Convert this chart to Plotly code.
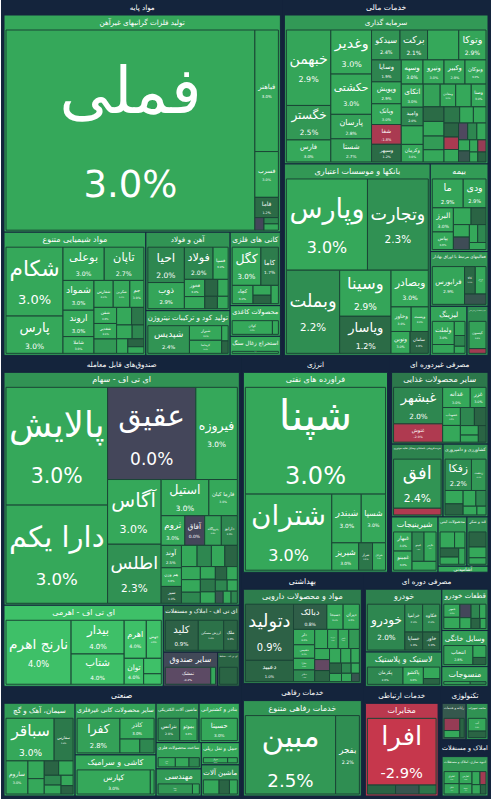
import plotly.graph_objects as go

NAVY = "#14243c"

sectors = ["مواد پایه", "خدمات مالی", "صندوق‌های قابل معامله", "صنعتی", "انرژی",
           "مصرفی غیردوره ای", "بهداشتی", "خدمات رفاهی", "مصرفی دوره ای",
           "خدمات ارتباطی", "تکنولوژی", "املاک و مستغلات"]

# ---- مواد پایه
basic_industries = ["تولید فلزات گرانبهای غیرآهن", "مواد شیمیایی متنوع", "آهن و فولاد",
                    "تولید کود و ترکیبات نیتروژن", "کانی های فلزی", "محصولات کاغذی", "استخراج زغال سنگ"]
basic_counts = [7, 20, 10, 5, 6, 2, 1]
basic_stocks = ["فملی", "فباهنر", "فسرب", "فاما", "", "", "",
                "شکام", "پارس", "بوعلی", "تاپان", "شمواد", "اروند", "شاملا", "شفارس", "شکربن", "جم", "شفن", "شغدیر",
                "", "", "", "", "", "", "", "",
                "احیا", "ذوب", "فولاد", "فسپا", "فخوز", "", "", "", "", "",
                "شپدیس", "شیراز", "کرماشا", "", "",
                "کگل", "کاما", "کچاد", "", "", "",
                "کولان", "",
                "کزغال"]
basic_values = [52300, 3000, 1130, 500, 120, 95, 95,
                4470, 2420, 1560, 1500, 1050, 930, 590, 590, 510, 430, 415, 400,
                370, 300, 245, 245, 185, 185, 145, 120,
                1650, 1220, 1180, 620, 450, 315, 280, 225, 200, 170,
                1860, 760, 680, 160, 130,
                1480, 900, 515, 240, 205, 180,
                1280, 190,
                910]
basic_changes = [3.0, 3.0, 3.0, 1.2, 0.0, 2.0, 3.0,
                 3.0, 3.0, 3.0, 2.7, 3.0, 3.0, 3.0, 3.0, 3.0, 3.0, 3.0, 3.0,
                 2.5, 3.0, 1.5, 3.0, 2.0, 3.0, 1.0, 3.0,
                 2.0, 2.9, 2.0, 3.0, 3.0, 3.0, 1.0, 3.0, 1.0, 3.0,
                 2.4, 3.0, 3.0, 3.0, 1.0,
                 3.0, 1.7, 3.0, 3.0, 1.0, 3.0,
                 3.0, 3.0,
                 3.0]

# ---- خدمات مالی
fin_industries = ["سرمایه گذاری", "بانکها و موسسات اعتباری", "بیمه",
                  "فعالیتهای مرتبط با اوراق بهادار", "لیزینگ", "سایر واسطه گری های مالی"]
fin_counts = [47, 10, 11, 4, 5, 2]
fin_stocks = ["خبهمن", "خگستر", "فارس", "وغدیر", "حکشتی", "پارسان", "شستا", "سیدکو", "برکت", "",
              "وتوکا", "وسایا", "وپویش", "وبانک", "شفا", "وسپهر", "وسپه", "ونیرو", "وکبیر", "وبوکان",
              "اتکای", "وامید", "", "وکرمان", "", "ومعادن", "", "وصنا", "", "",
              "", "", "", "", "", "", "", "", "", "",
              "", "", "", "", "", "", "",
              "وپارس", "وتجارت", "وبملت", "وسینا", "ویاسار", "وبصادر", "وخاور", "وپست", "ونوین", "سامان",
              "ما", "ودی", "البرز", "بپاس", "", "", "", "", "", "", "",
              "فرابورس", "کالا", "بورس", "",
              "ولملت", "", "", "", "",
              "کیسون", ""]
fin_values = [3700, 1690, 1080, 1980, 1810, 1100, 1040, 940, 910, 1030,
              900, 720, 720, 680, 650, 580, 580, 560, 560, 560,
              560, 450, 450, 425, 425, 390, 390, 370, 335, 335,
              315, 280, 280, 245, 225, 225, 200, 200, 170, 170,
              170, 135, 135, 110, 110, 90, 90,
              8000, 6000, 4790, 2560, 2060, 1480, 535, 455, 450, 430,
              1140, 840, 650, 475, 380, 320, 255, 255, 190, 190, 150,
              1820, 440, 440, 330,
              840, 320, 250, 190, 125,
              840, 145]
fin_changes = [2.9, 2.5, 3.0, 3.0, 3.0, 2.8, 2.7, 2.4, 2.1, 3.0,
               2.9, 1.9, 2.9, 3.0, -1.8, 1.2, 3.0, 3.0, 2.9, 3.0,
               3.0, 2.0, 3.0, 3.0, 2.8, 3.0, 3.0, 3.0, 1.2, 3.0,
               2.6, 3.0, 1.5, 3.0, 3.0, 1.0, -1.8, 3.0, -0.1, 2.0,
               3.0, 3.0, 0.5, 3.0, -1.0, 3.0, 1.0,
               3.0, 2.3, 2.2, 2.9, 1.2, 3.0, 3.0, 3.0, 3.0, 1.0,
               2.9, 2.9, 3.0, 3.0, 3.0, 1.0, 3.0, 0.2, 3.0, 2.0, 3.0,
               2.9, 1.1, 3.0, 0.5,
               3.0, 3.0, 3.0, 2.0, 3.0,
               2.8, -1.5]

# ---- صندوق‌های قابل معامله
etf_industries = ["ای تی اف - سهام", "ای تی اف - اهرمی", "ای تی اف - املاک و مستغلات",
                  "سایر صندوق", "ای تی اف - مختلط"]
etf_counts = [32, 8, 3, 2, 1]
etf_stocks = ["پالایش", "دارا یکم", "عقیق", "فیروزه", "آگاس", "اطلس", "استیل", "فارما کیان",
              "ثروم", "آفاق", "پتروآگاه", "دارایو", "آوند", "هم وزن", "سپر",
              "", "", "", "", "", "", "", "", "", "", "", "", "", "", "", "", "",
              "نارنج اهرم", "بیدار", "شتاب", "اهرم", "جهش", "توان", "", "",
              "کلید", "ارزش مسکن", "ملک",
              "تمشک", "",
              ""]
etf_values = [12600, 10500, 8570, 4030, 3650, 3330, 1820, 1085,
              740, 620, 520, 500, 480, 400, 360,
              350, 320, 300, 280, 260, 250, 220, 200, 200, 180, 160, 150, 140, 120, 100, 100, 80,
              5190, 2230, 2000, 1050, 710, 630, 340, 230,
              1570, 1210, 650,
              1600, 170,
              710]
etf_changes = [3.0, 3.0, 0.0, 3.0, 3.0, 2.3, 3.0, 3.0,
               3.0, 0.0, 2.8, 2.0, 2.5, 3.0, 1.0,
               3.0, 2.0, 3.0, 1.0, 3.0, 3.0, 2.0, 3.0, 1.5, 3.0, 1.0, 3.0, 2.0, 3.0, 0.5, 3.0, 2.0,
               4.0, 4.0, 4.0, 4.0, 4.0, 4.0, 4.0, 4.0,
               0.9, 1.4, 1.0,
               -0.2, 3.0,
               1.0]

# ---- صنعتی
ind_industries = ["سیمان، آهک و گچ", "سایر محصولات کانی غیرفلزی", "کاشی و سرامیک",
                  "ماشین آلات الکتریکی", "بنادر و کشتیرانی", "ساخت محصولات فلزی",
                  "مهندسی", "حمل و نقل ریلی", "ماشین آلات"]
ind_counts = [11, 4, 2, 2, 1, 3, 2, 2, 3]
ind_stocks = ["سباقر", "سفارس", "ساروم", "", "", "", "", "", "", "", "",
              "کفرا", "کاذر", "", "",
              "کپارس", "",
              "بترانس", "بموتو",
              "حسینا",
              "فنوال", "", "",
              "رمپنا", "",
              "حریل", "",
              "", "", ""]
ind_values = [2870, 1130, 1015, 405, 350, 290, 290, 230, 210, 175, 140,
              2510, 1200, 465, 335,
              3410, 175,
              1015, 810,
              1710,
              535, 425, 320,
              1100, 220,
              650, 260,
              590, 390, 295]
ind_changes = [3.0, 1.6, 3.0, 3.0, 3.0, 1.0, 3.0, 2.0, 3.0, 3.0, 1.0,
               2.8, 3.0, 3.0, 2.0,
               3.0, 3.0,
               2.0, 3.0,
               3.0,
               3.0, 3.0, 2.0,
               2.5, 3.0,
               3.0, 3.0,
               3.0, 1.0, 3.0]

# ---- انرژی
energy_industries = ["فراورده های نفتی"]
energy_counts = [7]
energy_stocks = ["شپنا", "شتران", "شبندر", "شسپا", "شبریز", "شراز", "شرانل"]
energy_values = [16800, 7380, 1610, 1330, 825, 425, 400]
energy_changes = [3.0, 3.0, 3.0, 3.0, 3.0, 1.5, 3.0]

# ---- مصرفی غیردوره ای
staples_industries = ["سایر محصولات غذایی", "خرده فروشی باستثنای وسایل نقلیه موتوری",
                      "کشاورزی و دامپروری", "شیرینیجات", "محصولات لبنی", "قند و شکر", "آشامیدنی"]
staples_counts = [11, 2, 8, 5, 5, 3, 1]
staples_stocks = ["غبشهر", "غنوش", "غدانه", "غزر", "غشهداب", "", "", "", "", "", "",
                  "افق", "",
                  "زفکا", "زدشت", "", "", "", "", "", "",
                  "غبهار", "غمینو", "غپینو", "غگرجی", "",
                  "", "", "", "", "",
                  "", "", "",
                  ""]
staples_values = [2480, 1240, 770, 440, 440, 410, 350, 290, 235, 175, 175,
                  3340, 455,
                  1200, 660, 350, 290, 290, 230, 175, 115,
                  565, 565, 565, 565, 340,
                  420, 300, 300, 240, 180,
                  490, 350, 210,
                  300]
staples_changes = [2.0, -2.0, 3.0, 3.0, 3.0, 3.0, 2.0, 1.0, 3.0, 3.0, 1.0,
                   2.4, -2.0,
                   2.2, 2.5, 3.0, 1.0, 3.0, 2.0, 3.0, 3.0,
                   3.0, 3.0, 2.0, 3.0, 3.0,
                   3.0, 3.0, 1.0, 3.0, 3.0,
                   1.0, 3.0, 3.0,
                   3.0]

# ---- بهداشتی
health_industries = ["مواد و محصولات دارویی"]
health_counts = [25]
health_stocks = ["دتولید", "دعبید", "دبالک",
                 "دسبحا", "دیران", "دلر", "دشیمی", "دفارا", "دجابر", "", "درازک", "دکیمی",
                 "", "", "", "", "", "", "", "", "", "", "", "", ""]
health_values = [3730, 1410, 1160,
                 565, 565, 450, 395, 340, 340, 340, 280, 280,
                 280, 225, 225, 225, 225, 205, 170, 170, 135, 135, 115, 115, 90]
health_changes = [0.9, 1.0, 0.8,
                  3.0, 3.0, 3.0, 3.0, 3.0, 2.0, 3.0, 3.0, 3.0,
                  2.5, 3.0, -0.3, 1.0, 3.0, 3.0, 3.0, 1.0, 3.0, 2.0, 3.0, 3.0, 0.5]

# ---- خدمات رفاهی
leisure_industries = ["خدمات رفاهی متنوع"]
leisure_counts = [2]
leisure_stocks = ["مبین", "بفجر"]
leisure_values = [9720, 2560]
leisure_changes = [2.5, 2.2]

# ---- مصرفی دوره ای
disc_industries = ["خودرو", "لاستیک و پلاستیک", "قطعات خودرو", "وسایل خانگی", "منسوجات"]
disc_counts = [5, 4, 8, 3, 2]
disc_stocks = ["خودرو", "خزامیا", "خکاوه", "خساپا", "خاور",
               "پکرمان", "پاکشو", "", "",
               "خمهر", "", "", "", "", "", "", "",
               "انتخاب", "", "",
               "", ""]
disc_values = [2700, 780, 750, 505, 485,
               1400, 800, 430, 215,
               425, 365, 305, 245, 245, 185, 185, 120,
               1250, 350, 210,
               620, 370]
disc_changes = [2.0, 2.0, 2.0, 1.0, 1.0,
                2.0, 3.0, 3.0, 1.0,
                3.0, 3.0, 0.0, 3.0, 2.0, 3.0, 1.0, 3.0,
                2.8, 3.0, 1.0,
                3.0, 2.0]

# ---- خدمات ارتباطی
tel_industries = ["مخابرات"]
tel_counts = [4]
tel_stocks = ["افرا", "", "", ""]
tel_values = [6640, 365, 305, 220]
tel_changes = [-2.9, 1.0, 0.5, 1.5]

# ---- تکنولوژی
tech_industries = ["رایانه و خدمات", "ساخت تجهیزات"]
tech_counts = [3, 2]
tech_stocks = ["", "", "", "آپ", ""]
tech_values = [620, 360, 270, 750, 380]
tech_changes = [-1.0, 3.0, 1.0, 3.0, 1.0]

# ---- املاک و مستغلات
real_industries = ["انبوه سازی، املاک و مستغلات"]
real_counts = [8]
real_stocks = ["ثشرق", "ثامان", "ثفارس", "ثنوسا", "", "", "", ""]
real_values = [490, 420, 420, 350, 280, 210, 210, 140]
real_changes = [3.0, 3.0, 3.0, 3.0, 3.0, -1.5, 3.0, 1.0]

sector_data = [
    (basic_industries, basic_counts, basic_stocks, basic_values, basic_changes),
    (fin_industries, fin_counts, fin_stocks, fin_values, fin_changes),
    (etf_industries, etf_counts, etf_stocks, etf_values, etf_changes),
    (ind_industries, ind_counts, ind_stocks, ind_values, ind_changes),
    (energy_industries, energy_counts, energy_stocks, energy_values, energy_changes),
    (staples_industries, staples_counts, staples_stocks, staples_values, staples_changes),
    (health_industries, health_counts, health_stocks, health_values, health_changes),
    (leisure_industries, leisure_counts, leisure_stocks, leisure_values, leisure_changes),
    (disc_industries, disc_counts, disc_stocks, disc_values, disc_changes),
    (tel_industries, tel_counts, tel_stocks, tel_values, tel_changes),
    (tech_industries, tech_counts, tech_stocks, tech_values, tech_changes),
    (real_industries, real_counts, real_stocks, real_values, real_changes),
]

# ---------------- styling helpers
HEADER = 15
STOPS = [(-3.0, (200, 55, 75)), (-1.0, (150, 60, 85)), (-0.2, (92, 74, 100)),
         (0.0, (68, 70, 90)), (1.0, (42, 100, 68)), (2.0, (46, 135, 80)),
         (3.0, (53, 168, 90)), (4.0, (62, 192, 104))]


def change_color(p):
    if p <= STOPS[0][0]:
        c = STOPS[0][1]
    elif p >= STOPS[-1][0]:
        c = STOPS[-1][1]
    else:
        for (a, ca), (b, cb) in zip(STOPS[:-1], STOPS[1:]):
            if a <= p <= b:
                t = (p - a) / (b - a)
                c = tuple(round(ca[i] + (cb[i] - ca[i]) * t) for i in range(3))
                break
    return "rgb(%d,%d,%d)" % c


ids, labels, parents, vals, colors = ["root"], [" "], [""], [0], [NAVY]
templates, sizes, lcolors, lwidths = [" "], [10], [NAVY], [0]

for si, (sname, (inds, counts, stocks, values, changes)) in enumerate(zip(sectors, sector_data)):
    assert sum(counts) == len(stocks) == len(values) == len(changes), sname
    sid = "s%d" % si
    ids.append(sid); labels.append(sname); parents.append("root"); vals.append(0)
    colors.append(NAVY); templates.append("%{label}"); sizes.append(12)
    lcolors.append(NAVY); lwidths.append(0)
    pos = 0
    for ii, (iname, n) in enumerate(zip(inds, counts)):
        iid = "%si%d" % (sid, ii)
        sv = values[pos:pos + n]
        sc = changes[pos:pos + n]
        avg = sum(v * c for v, c in zip(sv, sc)) / sum(sv)
        ids.append(iid); labels.append(iname); parents.append(sid); vals.append(0)
        colors.append(change_color(avg)); templates.append("%{label}"); sizes.append(8)
        lcolors.append(NAVY); lwidths.append(1)
        for k in range(n):
            st, v, c = stocks[pos + k], values[pos + k], changes[pos + k]
            ids.append("%sk%d" % (iid, k)); labels.append(st if st else " "); parents.append(iid)
            vals.append(v)
            colors.append(change_color(c))
            fs = max(5.0, min(64.0, 0.31 * (v * 1.09) ** 0.5))
            sizes.append(fs)
            if st:
                templates.append("%%{label}<br><span style='font-size:%dpx'>%.1f%%</span>"
                                 % (max(4, round(fs * 0.58)), c))
            else:
                templates.append(" ")
            lcolors.append("#1b4536"); lwidths.append(1)
        pos += n

fig = go.Figure(go.Treemap(
    ids=ids, labels=labels, parents=parents, values=vals,
    branchvalues="remainder", sort=False,
    marker=dict(colors=colors, line=dict(color=lcolors, width=lwidths),
                pad=dict(t=HEADER, l=2, r=2, b=2), depthfade=False),
    tiling=dict(packing="squarify", squarifyratio=1.3, pad=0),
    texttemplate=templates, textposition="middle center",
    textfont=dict(family="DejaVu Sans", color="white", size=sizes),
    pathbar=dict(visible=False), hoverinfo="skip", maxdepth=-1,
))
fig.update_layout(width=492, height=800 + HEADER, margin=dict(l=0, r=0, t=0, b=0),
                  paper_bgcolor=NAVY, plot_bgcolor=NAVY)

post = ("document.documentElement.style.overflow='hidden';"
        "document.body.style.margin='0';document.body.style.overflow='hidden';"
        "document.body.style.background='%s';"
        "var g=document.getElementById('{plot_id}');g.style.marginTop='-%dpx';" % (NAVY, HEADER))
fig.write_html("out.html", post_script=post, config={"displayModeBar": False})
